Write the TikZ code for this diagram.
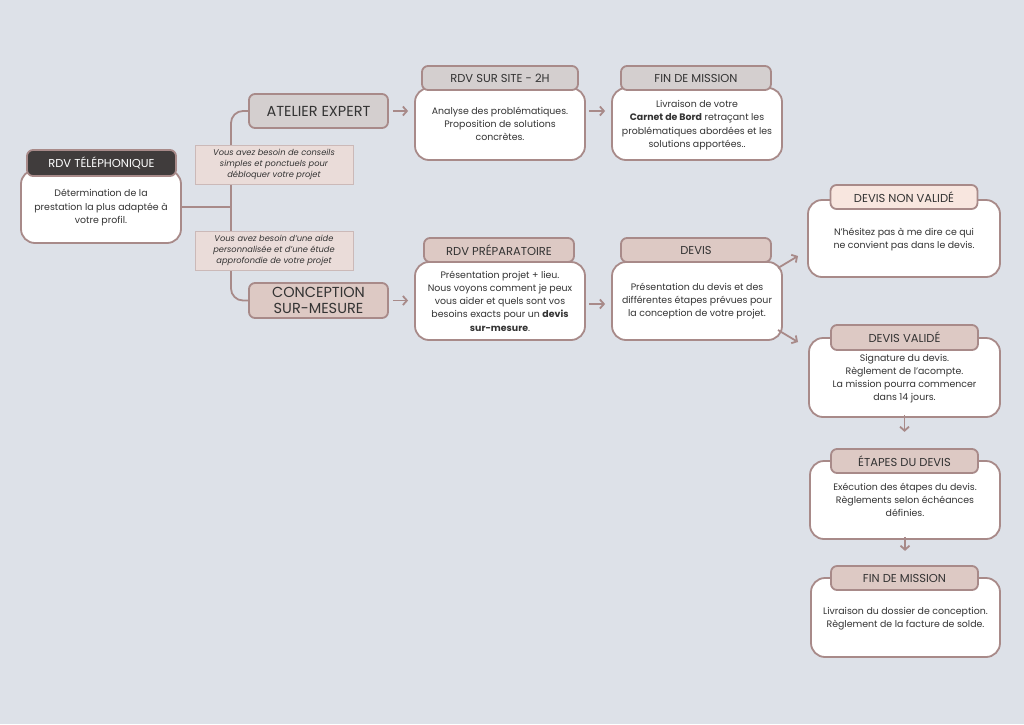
\documentclass[tikz,border=0pt]{standalone}
\usepackage{fontspec}
\setmainfont{Poppins}
\usetikzlibrary{arrows.meta}
\definecolor{bg}{HTML}{DDE1E8}
\definecolor{ln}{HTML}{A88A89}
\definecolor{dark}{HTML}{403C3C}
\definecolor{gry}{HTML}{D4CFCF}
\definecolor{pnk}{HTML}{DDC9C4}
\definecolor{lpk}{HTML}{F8E6DF}
\definecolor{lbl}{HTML}{EADCD9}
\definecolor{txt}{HTML}{333333}
\tikzset{
 body/.style={draw=ln,line width=1.8pt,fill=white,rounded corners=14pt,text=txt,font=\fontsize{9.4}{13.2}\selectfont,align=center,inner sep=1pt},
 head/.style={draw=ln,line width=1.8pt,rounded corners=6pt,text=txt,font=\fontsize{11.5}{13}\selectfont},
 big/.style={draw=ln,line width=1.8pt,rounded corners=6pt,text=txt,font=\fontsize{14.5}{15.5}\selectfont,align=center},
 lab/.style={draw=ln!60,line width=0.6pt,fill=lbl,text=txt,font=\fontsize{8.3}{11.2}\itshape\selectfont,align=center,inner sep=1pt},
 arr/.style={draw=ln,line width=1.8pt,-{Straight Barb[length=4pt,width=9pt]}},
 con/.style={draw=ln,line width=1.8pt}
}
\begin{document}
\begin{tikzpicture}[x=1pt,y=-1pt]
\fill[bg] (0,0) rectangle (1024,724);
\useasboundingbox (0,0) rectangle (1024,724);
% boxes
\node[body,minimum width=160pt,minimum height=73pt,text depth=-8pt] (tel) at (101,206.5) {Détermination de la\\prestation la plus adaptée à\\votre profil.};
\node[head,fill=dark,text=white,minimum width=149pt,minimum height=26pt] (telh) at (101.5,163) {RDV TÉLÉPHONIQUE};

\node[big,fill=gry,minimum width=139pt,minimum height=34pt] (at) at (318.5,111) {ATELIER EXPERT};
\node[big,fill=pnk,minimum width=139pt,minimum height=35pt,inner sep=1pt] (co) at (318.5,300.5) {CONCEPTION\\SUR-MESURE};

\node[body,minimum width=170pt,minimum height=72pt] (ss) at (500,124) {Analyse des problématiques.\\Proposition de solutions\\concrètes.};
\node[head,fill=gry,minimum width=156pt,minimum height=24pt] (ssh) at (500,78) {RDV SUR SITE - 2H};
\node[body,minimum width=170pt,minimum height=72pt,text depth=-6pt] (f1) at (697,124) {Livraison de votre\\\textbf{Carnet de Bord} retraçant les\\problématiques abordées et les\\solutions apportées..};
\node[head,fill=gry,minimum width=150pt,minimum height=24pt] (f1h) at (696,78) {FIN DE MISSION};

\node[body,minimum width=170pt,minimum height=78pt,text depth=-4pt] (pr) at (500,301) {Présentation projet + lieu.\\Nous voyons comment je peux\\vous aider et quels sont vos\\besoins exacts pour un \textbf{devis}\\\textbf{sur-mesure}.};
\node[head,fill=pnk,minimum width=150pt,minimum height=24pt] (prh) at (499,250) {RDV PRÉPARATOIRE};
\node[body,minimum width=170pt,minimum height=78pt] (dv) at (697,301) {Présentation du devis et des\\différentes étapes prévues pour\\la conception de votre projet.};
\node[head,fill=pnk,minimum width=150pt,minimum height=24pt] (dvh) at (696,250) {DEVIS};

\node[body,minimum width=192pt,minimum height=77pt,text depth=-14pt] (nv) at (904,238.5) {N’hésitez pas à me dire ce qui\\ne convient pas dans le devis.};
\node[head,fill=lpk,minimum width=147pt,minimum height=24pt] (nvh) at (904,197) {DEVIS NON VALIDÉ};
\node[body,minimum width=191pt,minimum height=79pt,text depth=-6pt] (va) at (904.5,377.5) {Signature du devis.\\Règlement de l’acompte.\\La mission pourra commencer\\dans 14 jours.};
\node[head,fill=pnk,minimum width=147pt,minimum height=25pt] (vah) at (904.5,337.5) {DEVIS VALIDÉ};
\node[body,minimum width=190pt,minimum height=78pt,text depth=-6pt] (et) at (905,500) {Exécution des étapes du devis.\\Règlements selon échéances\\définies.};
\node[head,fill=pnk,minimum width=147pt,minimum height=24pt] (eth) at (904.5,461) {ÉTAPES DU DEVIS};
\node[body,minimum width=189pt,minimum height=79pt,text depth=-4pt] (f2) at (905.5,617.5) {Livraison du dossier de conception.\\Règlement de la facture de solde.};
\node[head,fill=pnk,minimum width=147pt,minimum height=24pt] (f2h) at (904.5,578) {FIN DE MISSION};

% tree connectors
\coordinate (j) at (231,207);
\draw[con] (tel.east |- j) -- (j);
\draw[con,rounded corners=12pt] (at.west) -| (j) |- (co.west);
\node[lab,minimum width=158pt,minimum height=39pt] (l1) at (274,164.5) {Vous avez besoin de conseils\\simples et ponctuels pour\\débloquer votre projet};
\node[lab,minimum width=158pt,minimum height=39pt] (l2) at (274,250.5) {Vous avez besoin d’une aide\\personnalisée et d’une étude\\approfondie de votre projet};

% arrows
\draw[arr] ([xshift=4pt]at.east) -- ([xshift=-6pt]ss.west |- at.east);
\draw[arr] ([xshift=3pt]ss.east |- at.east) -- ([xshift=-6pt]f1.west |- at.east);
\draw[arr] ([xshift=4pt]co.east) -- ([xshift=-6pt]pr.west |- co.east);
\draw[arr] ([xshift=3pt,yshift=-3pt]pr.east) -- ([xshift=-6pt,yshift=-3pt]dv.west);
\draw[arr] (778,268) -- (798,256);
\draw[arr] (778,330) -- (798,342);
\draw[arr] ([yshift=3pt]va.south) -- ++(0,17);
\draw[arr] ([yshift=3pt]et.south) -- ++(0,14);
\end{tikzpicture}
\end{document}
